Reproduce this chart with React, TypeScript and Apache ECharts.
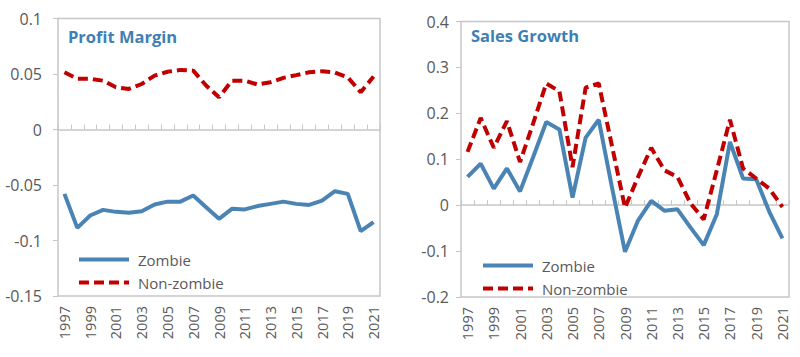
import React, { useEffect, useRef } from "react";
import * as echarts from "echarts";

const years = [
  "1997","1998","1999","2000","2001","2002","2003","2004","2005","2006","2007","2008","2009",
  "2010","2011","2012","2013","2014","2015","2016","2017","2018","2019","2020","2021",
];

const profitZombie = [
  -0.058, -0.0886, -0.0775, -0.0724, -0.0742, -0.075, -0.0736, -0.0676, -0.065, -0.065, -0.0595,
  -0.07, -0.0805, -0.0715, -0.072, -0.069, -0.067, -0.065, -0.067, -0.068, -0.064, -0.0556,
  -0.058, -0.0916, -0.0835,
];
const profitNonZombie = [
  0.0516, 0.0457, 0.0457, 0.044, 0.038, 0.0365, 0.041, 0.0486, 0.052, 0.0537, 0.053, 0.0396,
  0.029, 0.044, 0.044, 0.0405, 0.0426, 0.0465, 0.049, 0.0516, 0.0525, 0.0514, 0.047, 0.0336,
  0.0477,
];
const salesZombie = [
  0.0615, 0.0906, 0.036, 0.08, 0.03, 0.105, 0.181, 0.165, 0.0167, 0.147, 0.186, 0.04, -0.1015,
  -0.033, 0.0094, -0.012, -0.009, -0.049, -0.087, -0.0196, 0.1377, 0.058, 0.0565, -0.0145,
  -0.0725,
];
const salesNonZombie = [
  0.116, 0.19, 0.125, 0.183, 0.094, 0.178, 0.265, 0.248, 0.083, 0.256, 0.265, 0.13, -0.0055,
  0.0616, 0.125, 0.076, 0.0616, 0.0036, -0.031, 0.076, 0.186, 0.08, 0.058, 0.036, -0.004,
];

const panelTitles = ["Profit Margin", "Sales Growth"];
const seriesNames = ["Zombie", "Non-zombie"];

const BLUE = "#4a84b5";
const RED = "#c00000";
const GRAY_TEXT = "#595959";
const BORDER = "#c6c6c6";
const FONT = "'Open Sans', sans-serif";

const fmt = (v: number) => String(Number(v.toFixed(2)));

export default function App() {
  const ref = useRef<HTMLDivElement>(null);
  useEffect(() => {
    if (!ref.current) return;
    const chart = echarts.init(ref.current, undefined, { renderer: "svg" });

    const grids = [
      { left: 58, top: 18.5, width: 322, height: 277.5 },
      { left: 461, top: 21.5, width: 328, height: 275.5 },
    ];

    const labelAxis = (gi: number) => ({
      type: "category",
      gridIndex: gi,
      data: years,
      boundaryGap: true,
      position: "bottom",
      axisLine: { show: false, onZero: false },
      axisTick: { show: false },
      axisLabel: {
        interval: 1,
        rotate: 90,
        margin: 10,
        color: GRAY_TEXT,
        fontSize: 14.5,
        fontFamily: FONT,
      },
      splitLine: { show: false },
    });
    const zeroAxis = (gi: number) => ({
      type: "category",
      gridIndex: gi,
      data: years,
      boundaryGap: true,
      position: "bottom",
      axisLine: { show: true, onZero: true, lineStyle: { color: BORDER, width: 1.5 } },
      axisTick: { show: true, inside: true, length: 5, interval: 0, lineStyle: { color: BORDER, width: 1 } },
      axisLabel: { show: false },
      splitLine: { show: false },
    });

    const yAxis = (gi: number, min: number, max: number, interval: number, margin: number) => ({
      type: "value",
      gridIndex: gi,
      min,
      max,
      interval,
      axisLine: { show: false },
      axisTick: { show: true, length: 5, lineStyle: { color: BORDER } },
      axisLabel: {
        color: GRAY_TEXT,
        fontSize: 16,
        fontFamily: FONT,
        margin,
        formatter: (v: number) => fmt(v),
      },
      splitLine: { show: false },
    });

    const lineSeries = (name: string, data: number[], xi: number, yi: number, dashed: boolean) => ({
      type: "line",
      name,
      data,
      xAxisIndex: xi,
      yAxisIndex: yi,
      symbol: "none",
      lineStyle: {
        color: dashed ? RED : BLUE,
        width: 4,
        type: dashed ? [10, 5] : "solid",
      },
      itemStyle: { color: dashed ? RED : BLUE },
    });

    const legend = (left: number, top: number) => ({
      orient: "vertical",
      left,
      top,
      data: seriesNames,
      itemWidth: 50,
      itemHeight: 14,
      itemGap: 8,
      itemStyle: { opacity: 0 },
      lineStyle: { width: 4 },
      textStyle: { color: GRAY_TEXT, fontSize: 15, fontFamily: FONT, padding: [0, 0, 0, 4] },
      selectedMode: false,
    });

    chart.setOption({
      animation: false,
      backgroundColor: "#ffffff",
      grid: grids.map((g) => ({
        ...g,
        show: true,
        borderColor: BORDER,
        borderWidth: 1.5,
        backgroundColor: "transparent",
        containLabel: false,
      })),
      xAxis: [labelAxis(0), zeroAxis(0), labelAxis(1), zeroAxis(1)],
      yAxis: [yAxis(0, -0.15, 0.1, 0.05, 16), yAxis(1, -0.2, 0.4, 0.1, 12)],
      legend: [legend(72, 247), legend(476, 253)],
      series: [
        lineSeries(seriesNames[0], profitZombie, 0, 0, false),
        lineSeries(seriesNames[1], profitNonZombie, 0, 0, true),
        lineSeries(seriesNames[0], salesZombie, 2, 1, false),
        lineSeries(seriesNames[1], salesNonZombie, 2, 1, true),
      ],
      graphic: [
        {
          type: "text",
          x: 68,
          y: 36,
          style: {
            text: panelTitles[0],
            fill: "#3f7fb5",
            font: "bold 16.5px 'Open Sans', sans-serif",
            verticalAlign: "middle",
          },
        },
        {
          type: "text",
          x: 471,
          y: 35,
          style: {
            text: panelTitles[1],
            fill: "#3f7fb5",
            font: "bold 16.5px 'Open Sans', sans-serif",
            verticalAlign: "middle",
          },
        },
      ],
    });
    return () => chart.dispose();
  }, []);

  return (
    <div
      ref={ref}
      style={{ position: "fixed", left: 0, top: 0, width: 800, height: 357, background: "#fff" }}
    />
  );
}
